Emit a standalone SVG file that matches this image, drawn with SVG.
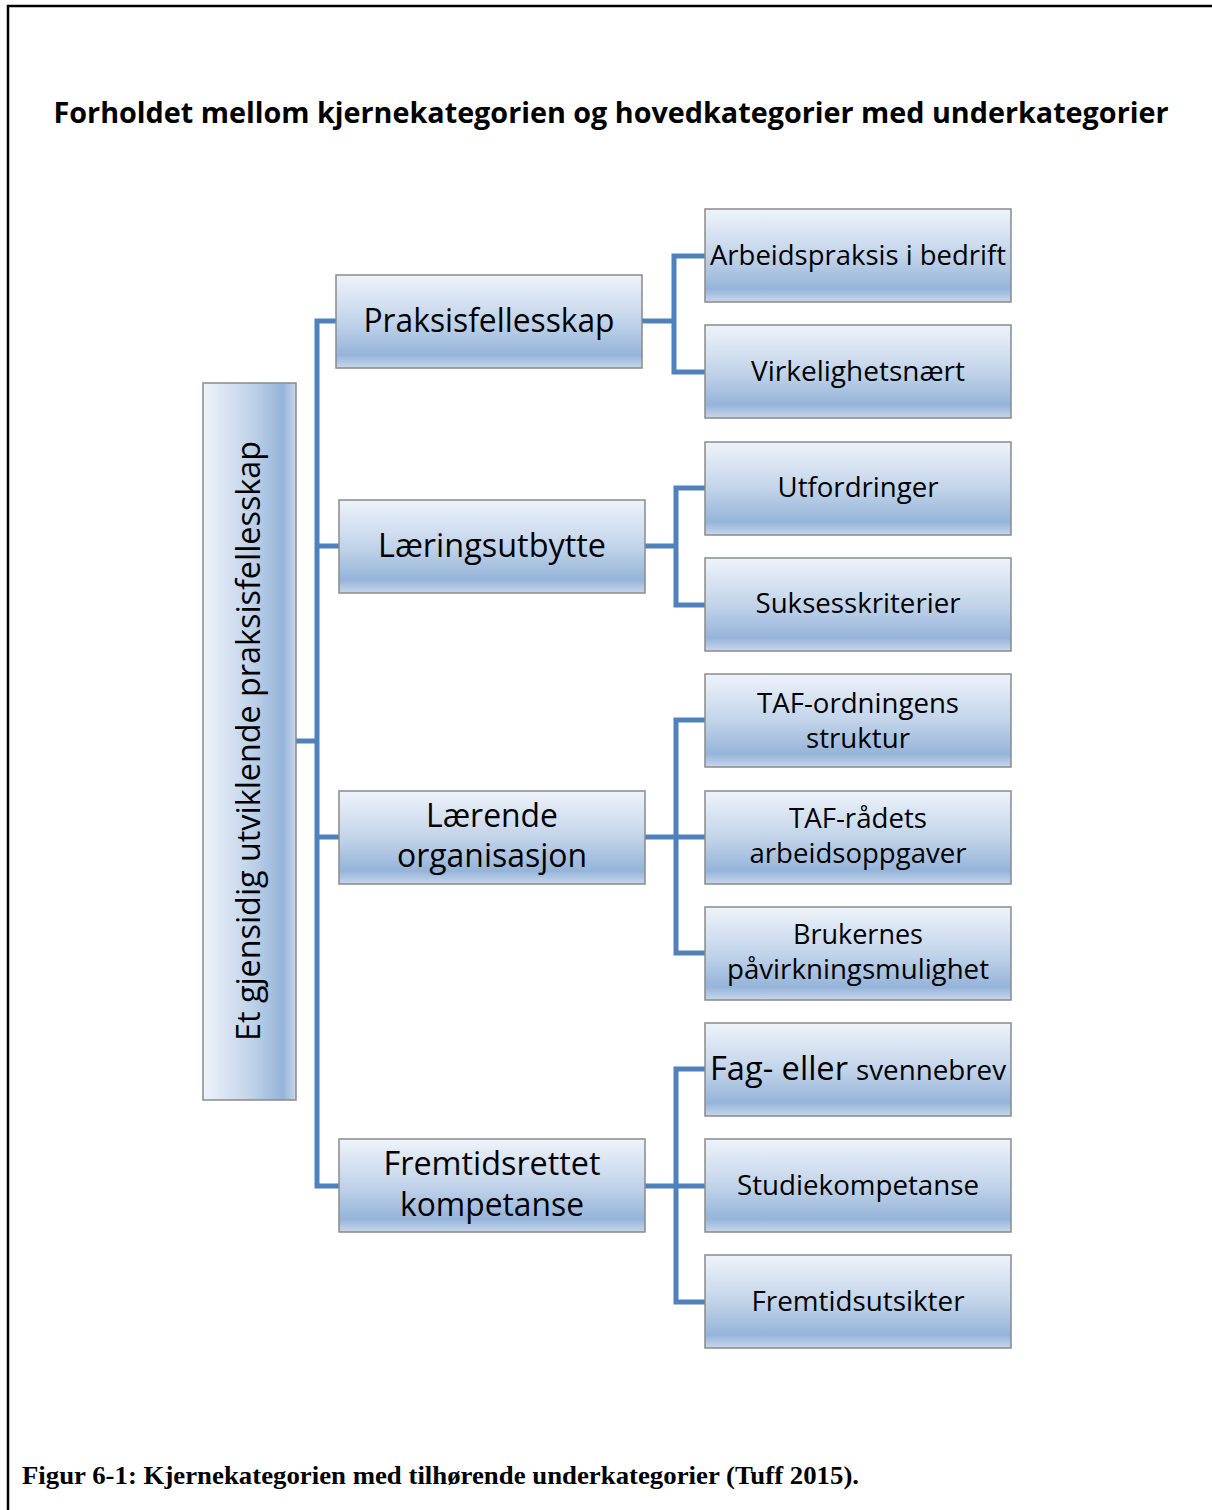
<svg xmlns="http://www.w3.org/2000/svg" width="1212" height="1510" viewBox="0 0 1212 1510">
  <defs>
    <!-- vertical fill for the category boxes -->
    <linearGradient id="fillV" x1="0" y1="0" x2="0" y2="1">
      <stop offset="0" stop-color="#eef3fa"/>
      <stop offset="0.5" stop-color="#c2d4ea"/>
      <stop offset="0.86" stop-color="#95b4d9"/>
      <stop offset="1" stop-color="#c8d7ec"/>
    </linearGradient>
    <!-- same fill turned sideways for the rotated core box -->
    <linearGradient id="fillH" x1="0" y1="0" x2="1" y2="0">
      <stop offset="0" stop-color="#eef3fa"/>
      <stop offset="0.5" stop-color="#c2d4ea"/>
      <stop offset="0.86" stop-color="#95b4d9"/>
      <stop offset="1" stop-color="#c8d7ec"/>
    </linearGradient>
    <style>
      .box { fill: url(#fillV); stroke: #8a8a8a; stroke-width: 1.5; }
      .core { fill: url(#fillH); stroke: #8a8a8a; stroke-width: 1.5; }
      .lbl { font-family: "Open Sans", "Liberation Sans", sans-serif; fill: #000; text-anchor: middle; }
      .l1 { font-size: 32px; }
      .l2 { font-size: 27px; }
      .conn { fill: none; stroke: #4f81bd; stroke-width: 5; stroke-linejoin: miter; }
    </style>
  </defs>

  <rect width="1212" height="1510" fill="#fff"/>

  <!-- page frame -->
  <path d="M8 1510 V6 H1212" fill="none" stroke="#000" stroke-width="2.5"/>

  <text x="611" y="123" font-family="'Open Sans', 'Liberation Sans', sans-serif" font-weight="bold" font-size="29" text-anchor="middle" textLength="1115" lengthAdjust="spacingAndGlyphs">Forholdet mellom kjernekategorien og hovedkategorier med underkategorier</text>

  <!-- connectors -->
  <g id="connectors" class="conn">
    <path d="M296 741 H317"/>
    <path d="M336 321 H317 V1186 H339"/>
    <path d="M317 546 H339"/>
    <path d="M317 837 H339"/>
    <path d="M642 321 H674"/>
    <path d="M705 256 H674 V372 H705"/>
    <path d="M645 546 H676"/>
    <path d="M705 488 H676 V605 H705"/>
    <path d="M645 837 H705"/>
    <path d="M705 720 H676 V953 H705"/>
    <path d="M645 1186 H705"/>
    <path d="M705 1069 H676 V1302 H705"/>
  </g>

  <!-- core category -->
  <g id="core">
    <rect class="core" x="203" y="383" width="93" height="717"/>
    <text class="lbl" transform="translate(260 741) rotate(-90)" font-size="32" textLength="600" lengthAdjust="spacingAndGlyphs">Et gjensidig utviklende praksisfellesskap</text>
  </g>

  <!-- main categories -->
  <g id="praksisfellesskap">
    <rect class="box" x="336" y="275" width="306" height="93"/>
    <text class="lbl l1" x="489" y="332" textLength="251" lengthAdjust="spacingAndGlyphs">Praksisfellesskap</text>
  </g>
  <g id="laeringsutbytte">
    <rect class="box" x="339" y="500" width="306" height="93"/>
    <text class="lbl l1" x="492" y="557" textLength="228" lengthAdjust="spacingAndGlyphs">Læringsutbytte</text>
  </g>
  <g id="laerende-organisasjon">
    <rect class="box" x="339" y="791" width="306" height="93"/>
    <text class="lbl l1" x="492" y="827" textLength="132" lengthAdjust="spacingAndGlyphs">Lærende</text>
    <text class="lbl l1" x="492" y="867" textLength="190" lengthAdjust="spacingAndGlyphs">organisasjon</text>
  </g>
  <g id="fremtidsrettet-kompetanse">
    <rect class="box" x="339" y="1139" width="306" height="93"/>
    <text class="lbl l1" x="492" y="1175" textLength="217" lengthAdjust="spacingAndGlyphs">Fremtidsrettet</text>
    <text class="lbl l1" x="492" y="1216" textLength="184" lengthAdjust="spacingAndGlyphs">kompetanse</text>
  </g>

  <!-- subcategories -->
  <g id="arbeidspraksis">
    <rect class="box" x="705" y="209" width="306" height="93"/>
    <text class="lbl l2" x="858" y="265" font-size="28" textLength="296" lengthAdjust="spacingAndGlyphs">Arbeidspraksis i bedrift</text>
  </g>
  <g id="virkelighetsnaert">
    <rect class="box" x="705" y="325" width="306" height="93"/>
    <text class="lbl l2" x="858" y="381" textLength="214" lengthAdjust="spacingAndGlyphs">Virkelighetsnært</text>
  </g>
  <g id="utfordringer">
    <rect class="box" x="705" y="442" width="306" height="93"/>
    <text class="lbl l2" x="858" y="497" textLength="161" lengthAdjust="spacingAndGlyphs">Utfordringer</text>
  </g>
  <g id="suksesskriterier">
    <rect class="box" x="705" y="558" width="306" height="93"/>
    <text class="lbl l2" x="858" y="613" textLength="205" lengthAdjust="spacingAndGlyphs">Suksesskriterier</text>
  </g>
  <g id="taf-ordningens-struktur">
    <rect class="box" x="705" y="674" width="306" height="93"/>
    <text class="lbl l2" x="858" y="713" textLength="202" lengthAdjust="spacingAndGlyphs">TAF-ordningens</text>
    <text class="lbl l2" x="858" y="748" textLength="104" lengthAdjust="spacingAndGlyphs">struktur</text>
  </g>
  <g id="taf-radets-arbeidsoppgaver">
    <rect class="box" x="705" y="791" width="306" height="93"/>
    <text class="lbl l2" x="858" y="828" textLength="138" lengthAdjust="spacingAndGlyphs">TAF-rådets</text>
    <text class="lbl l2" x="858" y="863" textLength="217" lengthAdjust="spacingAndGlyphs">arbeidsoppgaver</text>
  </g>
  <g id="brukernes-pavirkningsmulighet">
    <rect class="box" x="705" y="907" width="306" height="93"/>
    <text class="lbl l2" x="858" y="944" textLength="130" lengthAdjust="spacingAndGlyphs">Brukernes</text>
    <text class="lbl l2" x="858" y="979" textLength="262" lengthAdjust="spacingAndGlyphs">påvirkningsmulighet</text>
  </g>
  <g id="fag-eller-svennebrev">
    <rect class="box" x="705" y="1023" width="306" height="93"/>
    <text x="710" y="1080" font-family="'Open Sans', 'Liberation Sans', sans-serif" fill="#000"><tspan font-size="32" textLength="138" lengthAdjust="spacingAndGlyphs">Fag- eller</tspan><tspan font-size="27" dx="8" textLength="150" lengthAdjust="spacingAndGlyphs">svennebrev</tspan></text>
  </g>
  <g id="studiekompetanse">
    <rect class="box" x="705" y="1139" width="306" height="93"/>
    <text class="lbl l2" x="858" y="1195" textLength="242" lengthAdjust="spacingAndGlyphs">Studiekompetanse</text>
  </g>
  <g id="fremtidsutsikter">
    <rect class="box" x="705" y="1255" width="306" height="93"/>
    <text class="lbl l2" x="858" y="1311" textLength="213" lengthAdjust="spacingAndGlyphs">Fremtidsutsikter</text>
  </g>

  <text x="22" y="1484" font-family="'Liberation Serif', serif" font-weight="bold" font-size="26" textLength="837" lengthAdjust="spacingAndGlyphs">Figur 6-1: Kjernekategorien med tilhørende underkategorier (Tuff 2015).</text>
</svg>
